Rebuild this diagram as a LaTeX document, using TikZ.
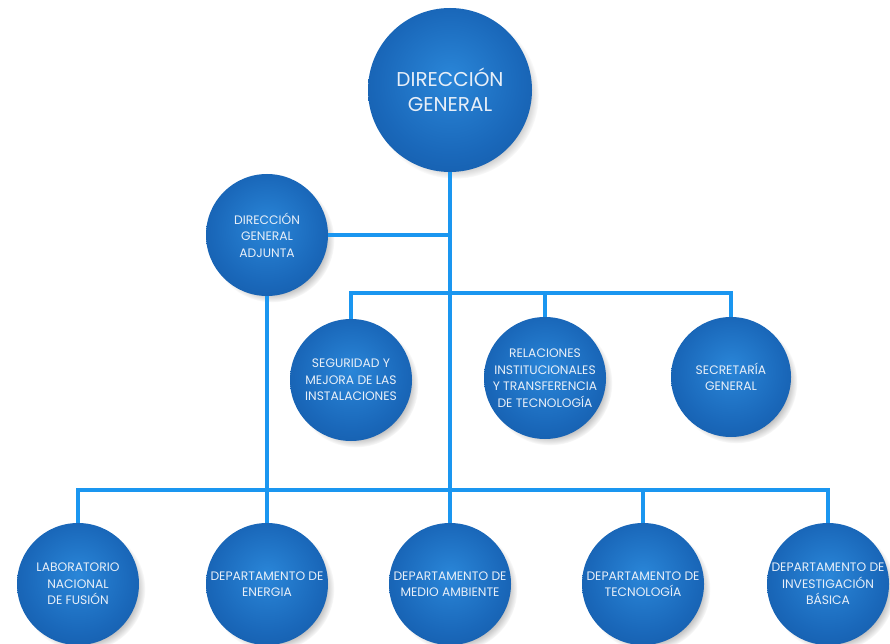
\documentclass[tikz,border=0pt]{standalone}
\usepackage{fontspec}
\setmainfont{Poppins}
\usetikzlibrary{shadows}
\definecolor{linec}{HTML}{1A96F0}
\definecolor{ballin}{HTML}{2A86D8}
\definecolor{ballmid}{HTML}{1A68BA}
\definecolor{ballout}{HTML}{0F4F99}
\definecolor{ballrim}{HTML}{0A3D7C}
\definecolor{txtc}{HTML}{E8EFF8}
\pgfdeclareradialshading{ball}{\pgfpoint{0bp}{4bp}}{%
  color(0bp)=(ballin); color(22bp)=(ballmid); color(44bp)=(ballout); color(50bp)=(ballrim)}
\tikzset{
  orgball/.style={circle, inner sep=0pt, minimum size=#1, shading=ball,
    circular drop shadow={shadow xshift=5pt, shadow yshift=-5pt, shadow scale=1.02, opacity=0.5},
    text=txtc, align=center, font=\fontsize{12.3}{16.5}\selectfont},
  conn/.style={draw=linec, line width=3.6pt}
}
\begin{document}
\begin{tikzpicture}[x=1pt,y=-1pt]
\useasboundingbox[fill=white] (0,0) rectangle (890,644);
% nodes
\node[orgball=164, font=\fontsize{20}{25}\selectfont] (dg) at (450,90) {DIRECCIÓN\\GENERAL};
\node[orgball=122] (dga) at (267,235) {DIRECCIÓN\\GENERAL\\ADJUNTA};
\node[orgball=122] (seg) at (351,380) {SEGURIDAD Y\\MEJORA DE LAS\\INSTALACIONES};
\node[orgball=122] (rel) at (545,378) {RELACIONES\\INSTITUCIONALES\\Y TRANSFERENCIA\\DE TECNOLOGÍA};
\node[orgball=120] (sec) at (731,377) {SECRETARÍA\\GENERAL};
\node[orgball=122] (lab) at (78,584) {LABORATORIO\\NACIONAL\\DE FUSIÓN};
\node[orgball=122] (ene) at (267,584) {DEPARTAMENTO DE\\ENERGIA};
\node[orgball=122] (ma) at (450,584) {DEPARTAMENTO DE\\MEDIO AMBIENTE};
\node[orgball=122] (tec) at (643,584) {DEPARTAMENTO DE\\TECNOLOGÍA};
\node[orgball=122] (inv) at (828,584) {DEPARTAMENTO DE\\INVESTIGACIÓN\\BÁSICA};
% junctions
\coordinate (busm) at (450,293);
\coordinate (busb) at (450,490);
% connectors
\draw[conn] (dg.south) -- (ma.north);
\draw[conn] (dga.east) -- (dga.east -| dg.south);
\draw[conn] (dga.south) -- (ene.north);
\draw[conn] (seg.north) -- (seg.north |- busm) -| (sec.north);
\draw[conn] (rel.north) -- (rel.north |- busm);
\draw[conn] (lab.north) -- (lab.north |- busb) -| (inv.north);
\draw[conn] (tec.north) -- (tec.north |- busb);
\end{tikzpicture}
\end{document}
